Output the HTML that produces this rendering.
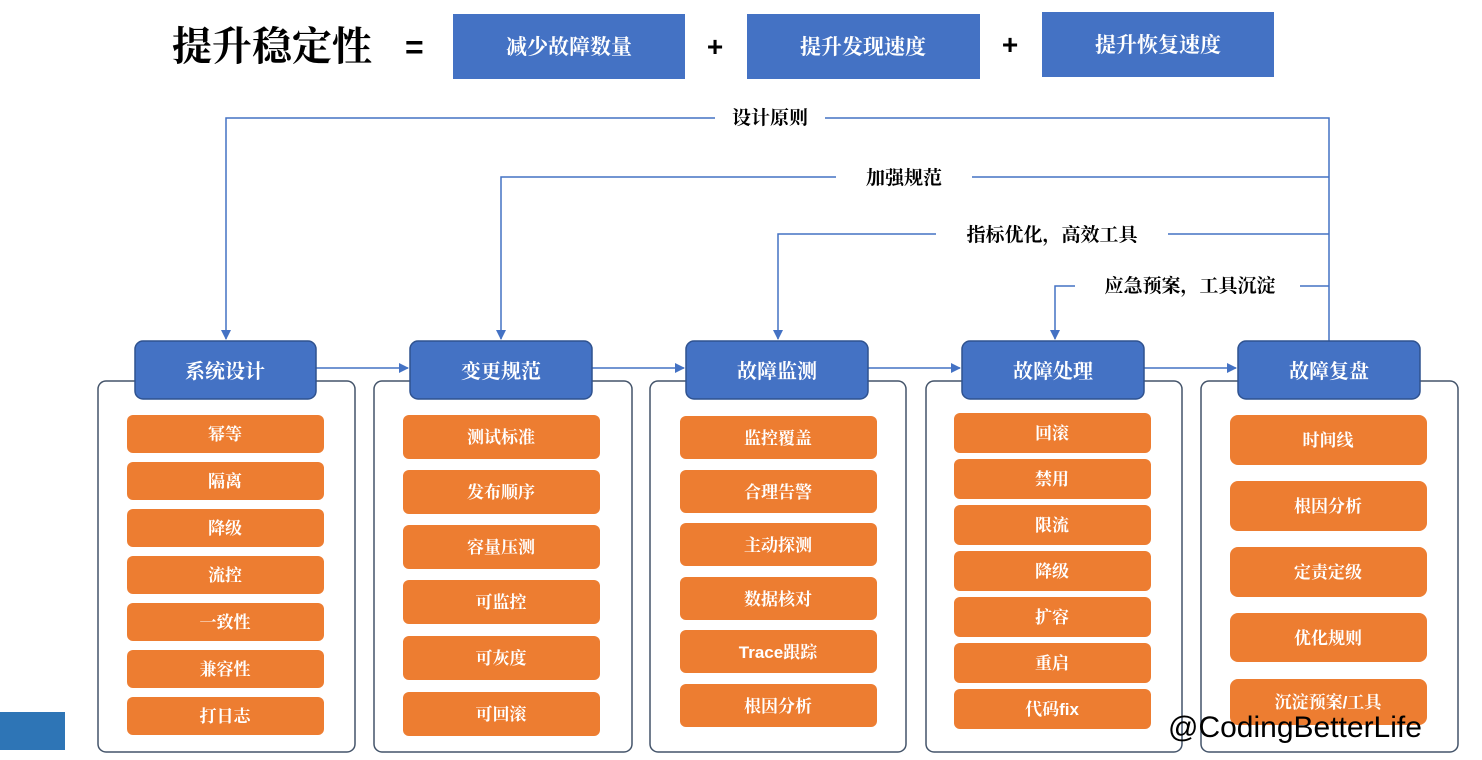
<!DOCTYPE html>
<html><head><meta charset="utf-8"><style>
html,body{margin:0;padding:0;background:#fff;width:1482px;height:760px;overflow:hidden}
svg text{font-family:"Liberation Sans","Noto Serif CJK SC","Noto Sans CJK SC",sans-serif}
</style></head><body>
<svg width="1482" height="760" viewBox="0 0 1482 760" xmlns="http://www.w3.org/2000/svg">
<defs><marker id="a" markerWidth="10" markerHeight="10" refX="9" refY="5" orient="auto" markerUnits="userSpaceOnUse"><path d="M0,0 L10,5 L0,10 z" fill="#4472C4"/></marker></defs>
<!-- title -->
<text x="172" y="60" font-size="40" font-weight="bold" font-family="Noto Sans CJK SC,sans-serif">提升稳定性</text>
<text x="405" y="58" font-size="32" font-weight="bold">=</text>
<rect x="453" y="14" width="232" height="65" fill="#4472C4"/>
<rect x="747" y="14" width="233" height="65" fill="#4472C4"/>
<rect x="1042" y="12" width="232" height="65" fill="#4472C4"/>
<g fill="#fff" font-size="21" text-anchor="middle" font-weight="bold" style="font-family:'Noto Serif CJK SC',serif">
<text x="569" y="54">减少故障数量</text><text x="863" y="54">提升发现速度</text><text x="1158" y="52">提升恢复速度</text></g>
<text x="715" y="56" font-size="28" font-weight="bold" text-anchor="middle">+</text>
<text x="1010" y="54" font-size="28" font-weight="bold" text-anchor="middle">+</text>
<!-- connectors -->
<g stroke="#4472C4" stroke-width="1.5" fill="none">
<path d="M1329,341 V118 H825 M715,118 H226 V339" marker-end="url(#a)"/>
<path d="M1329,177 H972 M836,177 H501 V339" marker-end="url(#a)"/>
<path d="M1329,234 H1168 M936,234 H778 V339" marker-end="url(#a)"/>
<path d="M1329,286 H1300 M1075,286 H1055 V339" marker-end="url(#a)"/>
<path d="M316,368 H408" marker-end="url(#a)"/>
<path d="M592,368 H684" marker-end="url(#a)"/>
<path d="M868,368 H960" marker-end="url(#a)"/>
<path d="M1144,368 H1236" marker-end="url(#a)"/>
</g>
<g font-size="19" font-weight="bold" style="font-family:'Noto Serif CJK SC',serif">
<text x="770" y="124" text-anchor="middle">设计原则</text>
<text x="904" y="184" text-anchor="middle">加强规范</text>
<text x="1052" y="241" text-anchor="middle">指标优化，高效工具</text>
<text x="1190" y="292" text-anchor="middle">应急预案，工具沉淀</text>
</g>
<!-- containers -->
<g fill="#fff" stroke="#44546A" stroke-width="1.5">
<rect x="98" y="381" width="257" height="371" rx="8"/>
<rect x="374" y="381" width="258" height="371" rx="8"/>
<rect x="650" y="381" width="256" height="371" rx="8"/>
<rect x="926" y="381" width="256" height="371" rx="8"/>
<rect x="1201" y="381" width="257" height="371" rx="8"/>
</g>
<g fill="#4472C4" stroke="#2F528F" stroke-width="1.5">
<rect x="135" y="341" width="181" height="58" rx="8"/>
<rect x="410" y="341" width="182" height="58" rx="8"/>
<rect x="686" y="341" width="182" height="58" rx="8"/>
<rect x="962" y="341" width="182" height="58" rx="8"/>
<rect x="1238" y="341" width="182" height="58" rx="8"/>
</g>
<g fill="#fff" font-size="20" text-anchor="middle" font-weight="bold" style="font-family:'Noto Serif CJK SC',serif">
<text x="225" y="378">系统设计</text><text x="501" y="378">变更规范</text><text x="777" y="378">故障监测</text><text x="1053" y="378">故障处理</text><text x="1329" y="378">故障复盘</text>
</g>
<!-- items -->
<g fill="#ED7D31">
<rect x="127" y="415" width="197" height="38" rx="6"/><rect x="127" y="462" width="197" height="38" rx="6"/><rect x="127" y="509" width="197" height="38" rx="6"/><rect x="127" y="556" width="197" height="38" rx="6"/><rect x="127" y="603" width="197" height="38" rx="6"/><rect x="127" y="650" width="197" height="38" rx="6"/><rect x="127" y="697" width="197" height="38" rx="6"/>
<rect x="403" y="415" width="197" height="44" rx="6"/><rect x="403" y="470" width="197" height="44" rx="6"/><rect x="403" y="525" width="197" height="44" rx="6"/><rect x="403" y="580" width="197" height="44" rx="6"/><rect x="403" y="636" width="197" height="44" rx="6"/><rect x="403" y="692" width="197" height="44" rx="6"/>
<rect x="680" y="416" width="197" height="43" rx="6"/><rect x="680" y="470" width="197" height="43" rx="6"/><rect x="680" y="523" width="197" height="43" rx="6"/><rect x="680" y="577" width="197" height="43" rx="6"/><rect x="680" y="630" width="197" height="43" rx="6"/><rect x="680" y="684" width="197" height="43" rx="6"/>
<rect x="954" y="413" width="197" height="40" rx="6"/><rect x="954" y="459" width="197" height="40" rx="6"/><rect x="954" y="505" width="197" height="40" rx="6"/><rect x="954" y="551" width="197" height="40" rx="6"/><rect x="954" y="597" width="197" height="40" rx="6"/><rect x="954" y="643" width="197" height="40" rx="6"/><rect x="954" y="689" width="197" height="40" rx="6"/>
<rect x="1230" y="415" width="197" height="50" rx="8"/><rect x="1230" y="481" width="197" height="50" rx="8"/><rect x="1230" y="547" width="197" height="50" rx="8"/><rect x="1230" y="613" width="197" height="49" rx="8"/><rect x="1230" y="679" width="197" height="46" rx="8"/>
</g>
<g fill="#fff" font-size="17" text-anchor="middle" font-weight="bold" style="font-family:'Noto Serif CJK SC',serif">
<text x="225" y="440">幂等</text><text x="225" y="487">隔离</text><text x="225" y="534">降级</text><text x="225" y="581">流控</text><text x="225" y="628">一致性</text><text x="225" y="675">兼容性</text><text x="225" y="722">打日志</text>
<text x="501" y="443">测试标准</text><text x="501" y="498">发布顺序</text><text x="501" y="553">容量压测</text><text x="501" y="608">可监控</text><text x="501" y="664">可灰度</text><text x="501" y="720">可回滚</text>
<text x="778" y="444">监控覆盖</text><text x="778" y="498">合理告警</text><text x="778" y="551">主动探测</text><text x="778" y="605">数据核对</text><text x="778" y="658">Trace跟踪</text><text x="778" y="712">根因分析</text>
<text x="1052" y="439">回滚</text><text x="1052" y="485">禁用</text><text x="1052" y="531">限流</text><text x="1052" y="577">降级</text><text x="1052" y="623">扩容</text><text x="1052" y="669">重启</text><text x="1052" y="715">代码fix</text>
<text x="1328" y="446">时间线</text><text x="1328" y="512">根因分析</text><text x="1328" y="578">定责定级</text><text x="1328" y="644">优化规则</text><text x="1328" y="708">沉淀预案/工具</text>
</g>
<rect x="0" y="712" width="65" height="38" fill="#2E75B6"/>
<text x="1168" y="737" font-size="30" fill="#000">@CodingBetterLife</text>
</svg>
</body></html>
